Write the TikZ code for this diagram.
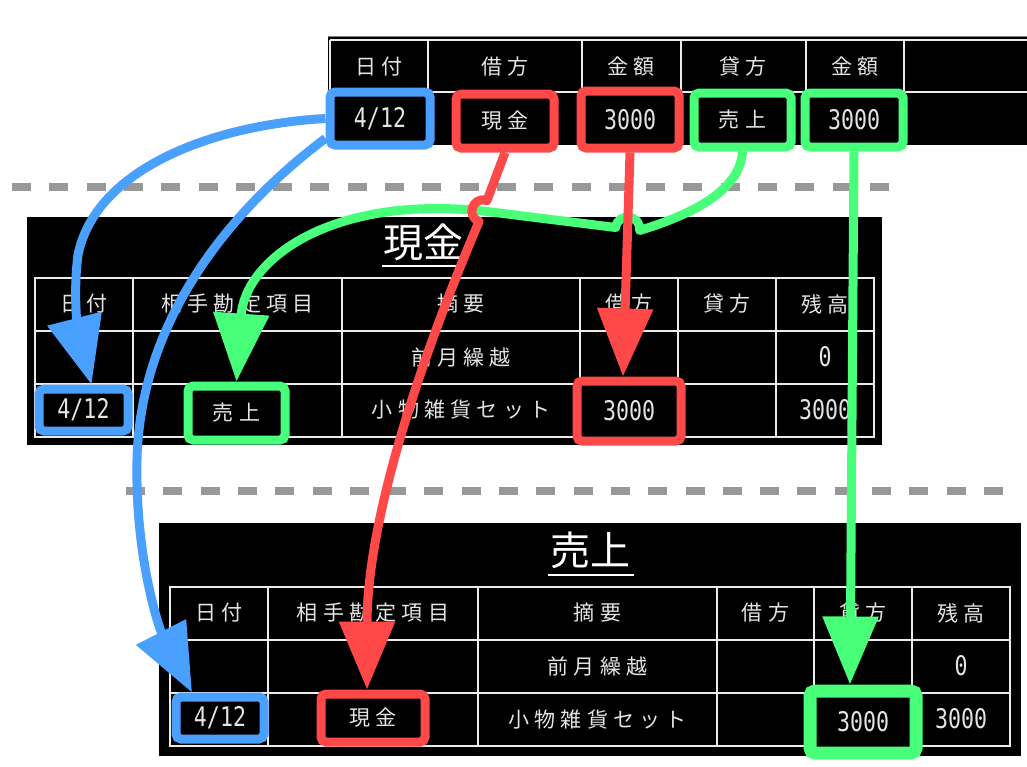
\documentclass[tikz,border=0pt]{standalone}
\usepackage{fontspec}
\usetikzlibrary{arrows.meta}
\newfontfamily\jpfont{Noto Sans CJK JP}[LetterSpace=25]
\newfontfamily\jptitle{Noto Sans CJK JP}
\newfontfamily\numfont{DejaVu Sans Mono}[FakeStretch=0.8]
\definecolor{hlblue}{RGB}{74,160,255}
\definecolor{hlred}{RGB}{255,72,72}
\definecolor{hlgreen}{RGB}{72,255,122}
\definecolor{dashgray}{RGB}{152,152,152}
\definecolor{txtgray}{RGB}{228,228,228}
\tikzset{
  grid/.style={draw=white!92!black, line width=2pt},
  sep/.style={draw=dashgray, line width=8pt, dash pattern=on 19pt off 18.3pt},
  jp/.style={text=txtgray, inner sep=0pt, font=\jpfont\fontsize{21}{21}\selectfont},
  num/.style={text=txtgray, inner sep=0pt, font=\numfont\fontsize{27}{27}\selectfont},
  ttl/.style={text=white, inner sep=0pt, font=\jptitle\fontsize{40}{40}\selectfont},
  hlbox/.style={num, fill=black, rounded corners=5pt, line width=9pt},
  link/.style={line width=9pt, line join=round, -{Triangle[length=68pt,width=54pt]}}
}
\begin{document}
\begin{tikzpicture}[x=1pt, y=-1pt]
  \useasboundingbox (0,0) rectangle (1027,766);
  % 1. 黒い台紙
  \fill[black] (328,36) rectangle (1027,145);
  \fill[black] (27,217) rectangle (882,445);
  \fill[black] (159,523) rectangle (1021,756);

  % 2. 罫線
  \draw[gray, line width=1pt] (328,36.5) -- (1027,36.5);
  \draw[grid] (330,40) -- (1027,40) (330,92) -- (1027,92);
  \draw[grid] (330,40) -- (330,145) (428,40) -- (428,145) (582,40) -- (582,145);
  \draw[grid] (681,40) -- (681,145) (806,40) -- (806,145) (904,40) -- (904,145);
  % 現金
  \draw[grid] (35,278) rectangle (874,437);
  \draw[grid] (35,331) -- (874,331) (35,384) -- (874,384);
  \draw[grid] (133,278) -- (133,437) (342,278) -- (342,437) (580,278) -- (580,437);
  \draw[grid] (678,278) -- (678,437) (776,278) -- (776,437);
  % 売上
  \draw[grid] (170,587) rectangle (1010,746);
  \draw[grid] (170,640) -- (1010,640) (170,693) -- (1010,693);
  \draw[grid] (268,587) -- (268,746) (478,587) -- (478,746) (717,587) -- (717,746);
  \draw[grid] (814,587) -- (814,746) (912,587) -- (912,746);

  % 3. 区切りの破線
  \draw[sep] (12,187) -- (890,187);
  \draw[sep] (126,491) -- (1004,491);

  % 4. 見出しと文字
  \node[jp] (jh1) at (379,67) {日付};
  \node[jp] (jh2) at (505,67) {借方};
  \node[jp] (jh3) at (631,67) {金額};
  \node[jp] (jh4) at (743,67) {貸方};
  \node[jp] (jh5) at (855,67) {金額};

  \node[ttl] (cashttl) at (423,242) {現金};
  \draw[white, line width=2pt] (382,266) -- (464,266);
  \node[jp] (ch1) at (84,304) {日付};
  \node[jp] (ch2) at (237.5,304) {相手勘定項目};
  \node[jp] (ch3) at (461,304) {摘要};
  \node[jp] (ch4) at (629,304) {借方};
  \node[jp] (ch5) at (727,304) {貸方};
  \node[jp] (ch6) at (825,304) {残高};
  \node[jp] (cr1) at (461,357) {前月繰越};
  \node[num] (cr2) at (825,357) {0};
  \node[jp] (csum) at (461,410) {小物雑貨セット};
  \node[num] (cbal) at (825,410) {3000};

  \node[ttl] (salesttl) at (590,550) {売上};
  \draw[white, line width=2pt] (548,575) -- (634,575);
  \node[jp] (sh1) at (219,613) {日付};
  \node[jp] (sh2) at (373,613) {相手勘定項目};
  \node[jp] (sh3) at (597.5,613) {摘要};
  \node[jp] (sh4) at (765.5,613) {借方};
  \node[jp] (sh5) at (863,613) {貸方};
  \node[jp] (sh6) at (961,613) {残高};
  \node[jp] (sr1) at (597.5,666) {前月繰越};
  \node[num] (sr2) at (961,666) {0};
  \node[jp] (ssum) at (597.5,719) {小物雑貨セット};
  \node[num] (sbal) at (961,719) {3000};

  % 5. 色枠
  \node[hlbox, draw=hlblue, minimum width=100pt, minimum height=53pt] (jdate) at (380,118.5) {4/12};
  \node[hlbox, jp, draw=hlred, minimum width=98pt, minimum height=54pt] (jcash) at (505,121) {現金};
  \node[hlbox, draw=hlred, minimum width=98pt, minimum height=57pt] (jdebamt) at (630,119.5) {3000};
  \node[hlbox, jp, draw=hlgreen, minimum width=97pt, minimum height=54pt] (jsales) at (742.5,120) {売上};
  \node[hlbox, draw=hlgreen, minimum width=98pt, minimum height=54pt] (jcredamt) at (854,120) {3000};

  \node[hlbox, draw=hlblue, minimum width=89pt, minimum height=42pt] (cdate) at (83.5,410) {4/12};
  \node[hlbox, jp, draw=hlgreen, minimum width=97pt, minimum height=54pt] (csales) at (236.5,413) {売上};
  \node[hlbox, draw=hlred, minimum width=104pt, minimum height=60pt] (cdeb) at (629,411) {3000};

  \node[hlbox, draw=hlblue, minimum width=88pt, minimum height=42pt] (sdate) at (220,718) {4/12};
  \node[hlbox, jp, draw=hlred, minimum width=104pt, minimum height=48pt] (scash) at (373,718) {現金};
  \node[hlbox, draw=hlgreen, line width=13pt, minimum width=106pt, minimum height=62pt] (scred) at (863,722) {3000};

  % 6. 転記の矢印
  \coordinate (xcash) at (483,211);
  \coordinate (hopra) at (486.9,200.7);
  \coordinate (hoprb) at (479.1,221.3);
  \coordinate (hopga) at (615.7,227.5);
  \coordinate (hopgb) at (639.5,230.5);
  \draw[link, hlgreen] (jsales.south) .. controls (740,195) and (680,218) .. (hopgb)
    .. controls (641.5,214.6) and (617.7,211.6) .. (hopga) -- (xcash)
    .. controls (330,195) and (245,260) .. (csales.north);
  \draw[link, hlgreen] (jcredamt.south) -- ([xshift=-13pt]scred.north);
  \draw[link, hlred] (jdebamt.south) -- ([xshift=-6pt]cdeb.north);
  \draw[link, hlred] (jcash.south) -- (hopra) .. controls (473.1,195.5) and (465.3,216.1) .. (hoprb)
    .. controls (420,360) and (367,520) .. ([xshift=-6pt]scash.north);
  \draw[link, hlblue] (jdate.west) .. controls (210,125) and (95,170) .. (78,255)
    .. controls (72,300) and (80,340) .. ([xshift=8pt]cdate.north);
  \draw[link, hlblue] (jdate.200) .. controls (230,210) and (140,320) .. (137,460)
    .. controls (135,560) and (160,630) .. ([xshift=-28pt]sdate.north);
\end{tikzpicture}
\end{document}
